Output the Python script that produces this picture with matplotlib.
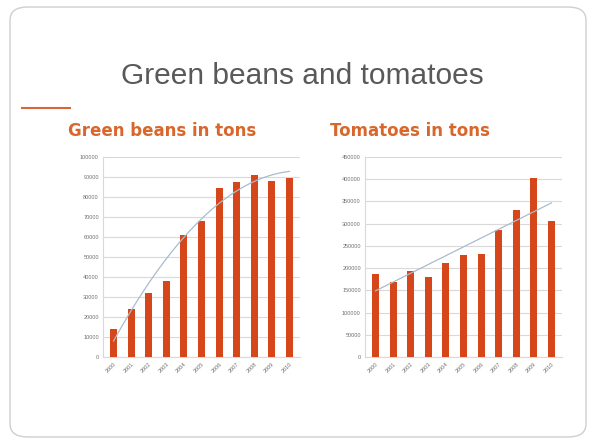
import numpy as np
import matplotlib
matplotlib.use('Agg')
import matplotlib.pyplot as plt
from matplotlib.patches import FancyBboxPatch

plt.rcParams['font.family'] = ['Liberation Sans', 'DejaVu Sans']

years = ['2000', '2001', '2002', '2003', '2004', '2005',
         '2006', '2007', '2008', '2009', '2010']
beans = [14000, 24000, 32000, 38000, 61000, 68000,
         84500, 87500, 91000, 88000, 89500]
tomatoes = [187500, 168500, 192500, 180000, 211500, 228500,
            232500, 285000, 331500, 402500, 306000]

bar_color = '#D5471A'
orange = '#D9662B'
trend_color = '#A9BCCD'
grid_color = '#D9D9D9'

fig = plt.figure(figsize=(5.92, 4.41), dpi=100)
fig.patch.set_facecolor('white')

# slide frame, kept behind the axes
frame = FancyBboxPatch((10 / 592, 4 / 441), 576 / 592, 430 / 441,
                       boxstyle='round,pad=0,rounding_size=0.03',
                       transform=fig.transFigure, facecolor='white',
                       edgecolor='#CFCFCF', linewidth=1.0, zorder=-10)
fig.patches.append(frame)

fig.text(0.51, 0.828, 'Green beans and tomatoes', ha='center', va='center',
         fontsize=21.5, color='#595959')
fig.add_artist(plt.Line2D([22 / 592, 70 / 592], [1 - 108 / 441, 1 - 108 / 441],
                          transform=fig.transFigure, color='#D9663B', lw=1.5))
fig.text(68 / 592, 1 - 131 / 441, 'Green beans in tons', ha='left', va='center',
         fontsize=12, color=orange, fontweight='bold', family='DejaVu Sans')
fig.text(330 / 592, 1 - 131 / 441, 'Tomatoes in tons', ha='left', va='center',
         fontsize=12, color=orange, fontweight='bold', family='DejaVu Sans')


def draw_panel(ax, values, ymax, step, deg):
    x = np.arange(len(values))
    ax.bar(x, values, width=0.4, color=bar_color, zorder=3)
    coef = np.polyfit(x, values, deg)
    xs = np.linspace(0, len(values) - 1, 100)
    ax.plot(xs, np.polyval(coef, xs), color=trend_color, lw=0.9, zorder=4)
    ax.set_ylim(0, ymax)
    ax.set_xlim(-0.6, len(values) - 0.4)
    ax.set_yticks(np.arange(0, ymax + 1, step))
    ax.set_yticklabels([str(v) for v in range(0, ymax + 1, step)])
    ax.set_xticks(x)
    ax.set_xticklabels(years, rotation=45, ha='right', rotation_mode='anchor')
    ax.tick_params(labelsize=4, colors='#707070', length=0, pad=3)
    ax.grid(axis='y', color=grid_color, lw=0.8, zorder=0)
    ax.set_facecolor('none')
    for s in ['top', 'right']:
        ax.spines[s].set_visible(False)
    ax.spines['left'].set_color(grid_color)
    ax.spines['bottom'].set_color(grid_color)


ax1 = fig.add_axes([103 / 592, 1 - 357 / 441, 197 / 592, 200 / 441])
draw_panel(ax1, beans, 100000, 10000, 2)

ax2 = fig.add_axes([365 / 592, 1 - 357 / 441, 197 / 592, 200 / 441])
draw_panel(ax2, tomatoes, 450000, 50000, 1)

fig.savefig('out.png', dpi=100)
